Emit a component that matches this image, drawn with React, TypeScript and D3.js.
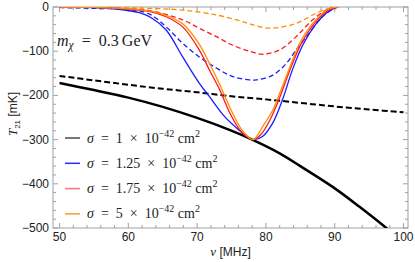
import React, { useRef, useEffect } from 'react';
import * as d3 from 'd3';

// frequency nu [MHz] / T21 [mK] readings for each curve
const blackSolid: [number, number][] = [[50, -172], [55, -188], [60, -205], [65, -226], [70, -251], [74.7, -278], [78, -300], [82, -331], [85, -360], [89.7, -407], [93.6, -452], [97.5, -500], [99, -520]];
const blackDashed: [number, number][] = [[50, -156], [55, -166], [60, -176], [65, -185], [70, -193], [75, -202], [80, -209], [85, -217], [90, -225], [95, -232], [100, -238]];

const blueSolid: [number, number][] = [[50, 0], [54, -1], [58, -4], [61.6, -13], [63.5, -26], [65.5, -52], [67.9, -113], [70.3, -172], [71.8, -203], [74, -248], [76.2, -280], [77.4, -295], [78.2, -300], [79.5, -293], [81, -262], [82.4, -210], [83.9, -140], [85.4, -85], [87.3, -38], [89, -11], [90.5, 0]];
const redSolid: [number, number][] = [[50, 0], [55, -1], [60, -5], [63, -10], [65.5, -22], [67.9, -45], [70.3, -97], [71.8, -143], [73.3, -188], [74.7, -238], [76.2, -278], [77.4, -295], [78.2, -300], [79.3, -288], [80.6, -255], [82, -205], [83.6, -138], [85.1, -84], [87, -38], [89, -8], [90.5, 0]];
const orangeSolid: [number, number][] = [[50, 0], [55, -1], [60, -4], [63, -9], [65.5, -19], [67.9, -38], [70.3, -84], [71.8, -128], [73.3, -176], [74.9, -232], [76.4, -276], [77.5, -295], [78.2, -300], [79.5, -271], [81, -233], [82, -195], [83.5, -135], [84.9, -82], [86.8, -37], [89, -5], [90.5, 0]];

const blueDashed: [number, number][] = [[50, -1], [55, -3], [60.6, -7], [63.1, -16], [65.5, -45], [67.9, -82], [70.3, -113], [72.8, -138], [75.1, -157], [77.6, -165], [78.6, -165], [81, -154], [83, -127], [84.4, -97], [86.3, -59], [88.2, -22], [90.2, 0]];
const redDashed: [number, number][] = [[50, -1], [55, -2], [60, -4], [63.1, -8], [67.9, -29], [70.3, -48], [72.8, -67], [75.1, -86], [77.6, -100], [79.5, -107], [82, -97], [84.4, -67], [86.8, -29], [89.2, -3], [90.4, 0]];
const orangeDashed: [number, number][] = [[50, 0], [55, -1], [60, -2], [63.1, -3], [67.9, -7], [72.8, -18], [76.2, -31], [77.6, -38], [80.5, -48], [84.4, -37], [87.3, -14], [89.2, -3], [90.4, 0]];

const xTicks = [50, 60, 70, 80, 90, 100];
const yTicks = [0, -100, -200, -300, -400, -500];

const legendNames = ['1', '1.25', '1.75', '5'];
const legendColors = ['#4a4a4a', '#2b2bff', '#ff7373', '#ff9a2a'];

const W = 415, H = 262;
const margin = { left: 53, right: 7, top: 7, bottom: 34 };

export default function App() {
  const svgRef = useRef<SVGSVGElement>(null);

  useEffect(() => {
    if (!svgRef.current) return;
    const svg = d3.select(svgRef.current);
    svg.selectAll('*').remove();

    const x = d3.scaleLinear().domain([49.05, 100.65]).range([margin.left, W - margin.right]);
    const y = d3.scaleLinear().domain([-500, 0]).range([H - margin.bottom, margin.top]);
    const [x0, x1] = x.range();
    const [y0, y1] = y.range();

    svg.append('defs').append('clipPath').attr('id', 'clip')
      .append('rect').attr('x', x0).attr('y', y1).attr('width', x1 - x0).attr('height', y0 - y1);

    const tickColor = '#a0a0a0';
    const g = svg.append('g');

    // minor + major ticks, all four sides
    const xMinor = d3.range(50, 101, 2);
    const yMinor = d3.range(-500, 1, 20);
    xMinor.forEach(v => {
      const len = v % 10 === 0 ? 5 : 3;
      g.append('line').attr('x1', x(v)).attr('x2', x(v)).attr('y1', y0).attr('y2', y0 - len).attr('stroke', tickColor);
      g.append('line').attr('x1', x(v)).attr('x2', x(v)).attr('y1', y1).attr('y2', y1 + len).attr('stroke', tickColor);
    });
    yMinor.forEach(v => {
      const len = v % 100 === 0 ? 5 : 3;
      g.append('line').attr('x1', x0).attr('x2', x0 + len).attr('y1', y(v)).attr('y2', y(v)).attr('stroke', tickColor);
      g.append('line').attr('x1', x1).attr('x2', x1 - len).attr('y1', y(v)).attr('y2', y(v)).attr('stroke', tickColor);
    });
    g.append('rect').attr('x', x0).attr('y', y1).attr('width', x1 - x0).attr('height', y0 - y1)
      .attr('fill', 'none').attr('stroke', tickColor).attr('stroke-width', 1);

    const font = "'Liberation Sans', Arial, sans-serif";
    xTicks.forEach(v => {
      g.append('text').attr('x', x(v)).attr('y', y0 + 13).attr('text-anchor', 'middle')
        .attr('font-family', font).attr('font-size', 12).attr('fill', '#222').text(v);
    });
    yTicks.forEach(v => {
      g.append('text').attr('x', x0 - 4).attr('y', y(v) + 4).attr('text-anchor', 'end')
        .attr('font-family', font).attr('font-size', 12).attr('fill', '#222')
        .text(v === 0 ? '0' : '\u2212' + Math.abs(v));
    });

    // axis titles
    const xt = g.append('text').attr('x', (x0 + x1) / 2).attr('y', 256).attr('text-anchor', 'middle')
      .attr('font-family', font).attr('font-size', 12).attr('fill', '#222');
    xt.append('tspan').attr('font-family', "'Liberation Serif', serif").attr('font-style', 'italic').attr('font-size', 13).text('\u03bd');
    xt.append('tspan').text(' [MHz]');

    const yt = g.append('text').attr('transform', `translate(17, 114) rotate(-90)`).attr('text-anchor', 'middle')
      .attr('font-family', font).attr('font-size', 12).attr('fill', '#222');
    yt.append('tspan').attr('font-family', "'Liberation Serif', serif").attr('font-style', 'italic').attr('font-size', 13).text('T');
    yt.append('tspan').attr('font-size', 8).attr('dy', 3).text('21');
    yt.append('tspan').attr('dy', -3).text(' [mK]');

    // curves
    const smooth = d3.line<[number, number]>().x(d => x(d[0])).y(d => y(d[1])).curve(d3.curveCatmullRom.alpha(0.5));
    const curves = g.append('g').attr('clip-path', 'url(#clip)');
    const draw = (data: [number, number][], color: string, width: number, dash?: string) => {
      curves.append('path').datum(data).attr('fill', 'none').attr('stroke', color)
        .attr('stroke-width', width).attr('stroke-dasharray', dash ?? null).attr('d', smooth);
    };
    draw(orangeDashed, '#ff8c00', 1.3, '5,3');
    draw(redDashed, '#ff1a1a', 1.3, '5,3');
    draw(blueDashed, '#1a1aff', 1.3, '5,3');
    draw(blackDashed, '#000', 2, '6,3');
    draw(blackSolid, '#000', 2.5);
    draw(blueSolid, '#1a1aff', 1.3);
    draw(redSolid, '#ff1a1a', 1.3);
    draw(orangeSolid, '#ff8c00', 1.3);

    // mass label
    const serif = "'Liberation Serif', 'DejaVu Serif', serif";
    const ml = g.append('text').attr('x', 57).attr('y', 46).attr('font-family', serif).attr('font-size', 16).attr('fill', '#222');
    ml.append('tspan').attr('font-style', 'italic').text('m');
    ml.append('tspan').attr('font-style', 'italic').attr('font-size', 11.5).attr('dy', 3).text('\u03c7');
    ml.append('tspan').attr('dy', -3).text('\u2002=\u20020.3\u2009GeV');

    // legend
    legendNames.forEach((n, i) => {
      const ly = 138 + i * 25.3;
      g.append('line').attr('x1', 65).attr('x2', 80).attr('y1', ly).attr('y2', ly)
        .attr('stroke', legendColors[i]).attr('stroke-width', 1.5);
      const t = g.append('text').attr('x', 87).attr('y', ly + 4.5).attr('font-family', serif).attr('font-size', 14).attr('fill', '#222');
      t.append('tspan').attr('font-style', 'italic').text('\u03c3');
      t.append('tspan').text(`\u2002=\u2002${n}\u2002\u00d7\u200210`);
      t.append('tspan').attr('font-size', 10).attr('dy', -6).text('\u221242');
      t.append('tspan').attr('dy', 6).text('\u2005cm');
      t.append('tspan').attr('font-size', 10).attr('dy', -6).text('2');
    });
  }, []);

  return <svg ref={svgRef} width={W} height={H} style={{ position: 'absolute', left: 0, top: 0, background: '#fff' }} />;
}
